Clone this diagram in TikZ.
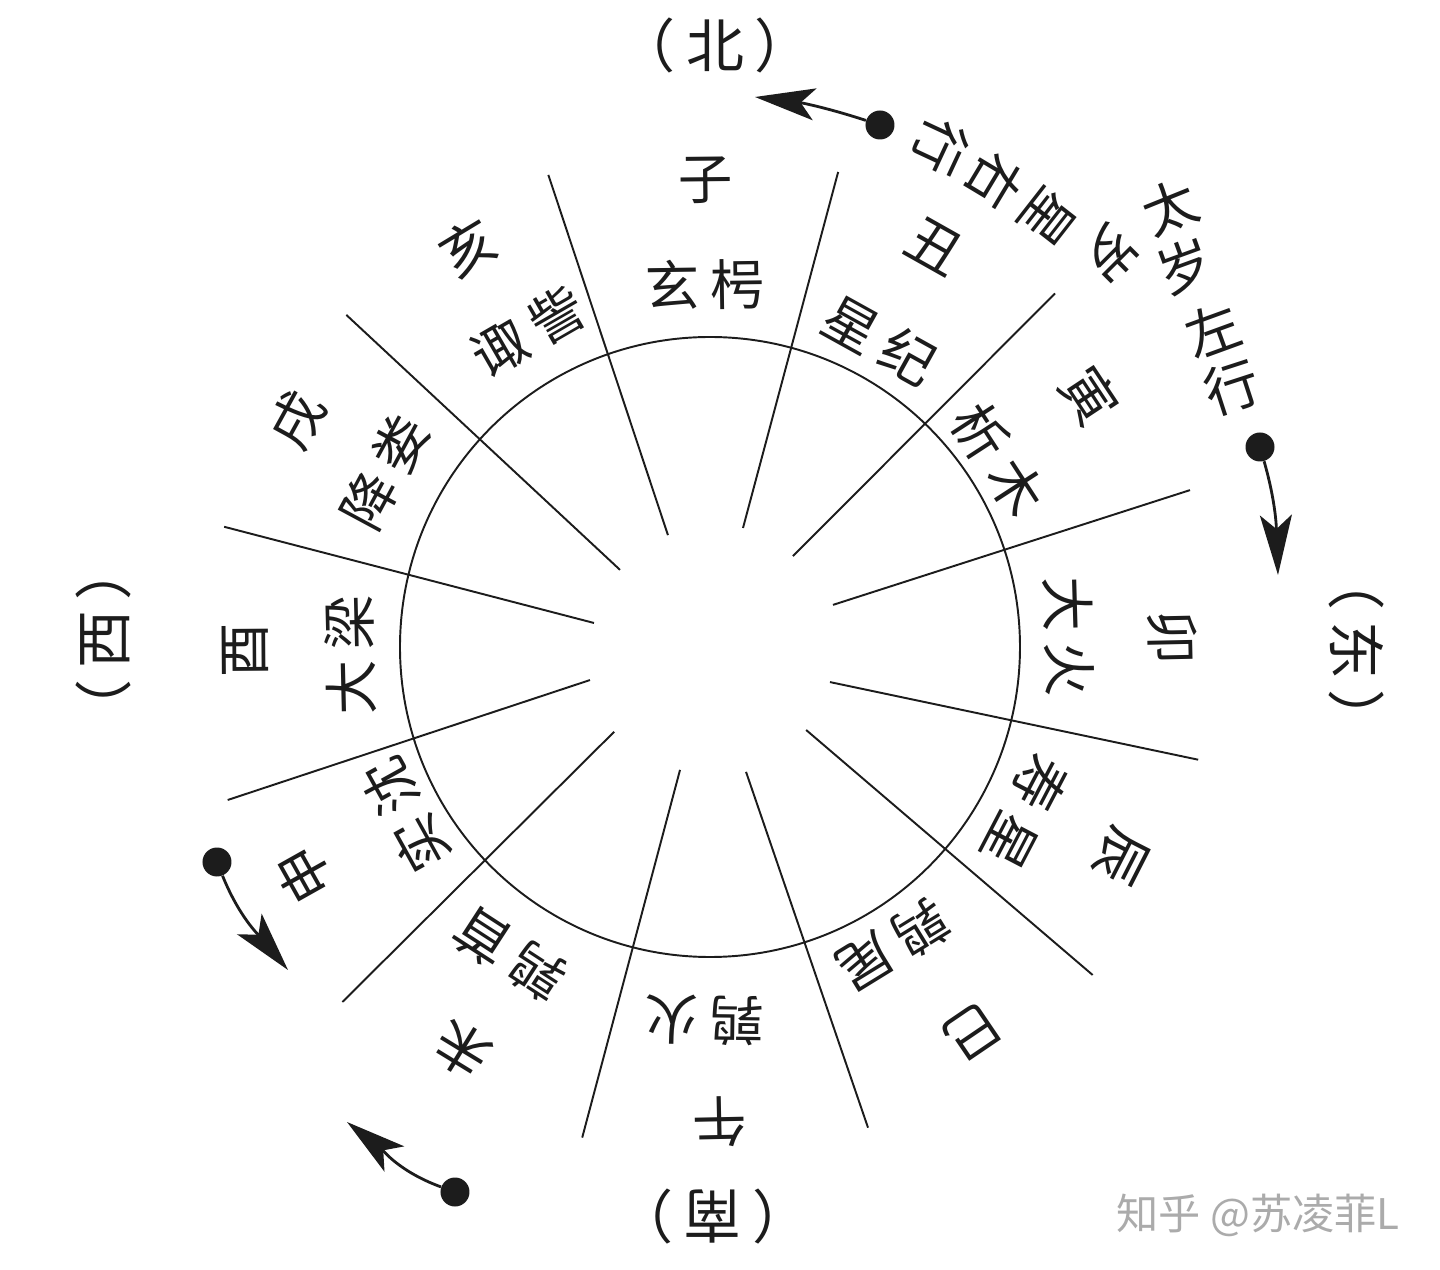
\documentclass[tikz,border=0pt]{standalone}
\usepackage{fontspec}
\usepackage{xcolor}
\usetikzlibrary{arrows.meta}
\newfontfamily\cjk{Noto Sans CJK SC}
\definecolor{Ink}{HTML}{1C1C1C}
\definecolor{Mark}{HTML}{ABABAB}

\begin{document}
\begin{tikzpicture}[every node/.style={font=\cjk\fontsize{31}{31}\selectfont,text=Ink,inner sep=0pt},ray/.style={draw=Ink,line width=1.1pt},move/.style={draw=Ink,line width=1.6pt,-{Stealth[length=12mm,width=6.4mm,inset=2.8mm]}},dot/.style={circle,fill=Ink,minimum size=5.8mm},side/.style={font=\cjk\fontsize{33}{33}\selectfont}]
\useasboundingbox (-14.2,-12.46) rectangle (14.6,12.94);
\draw[ray] (0,0) circle (6.2);
\foreach \ai/\ri/\ao/\ro in {110.6/2.39/108.9/9.98,74.5/2.47/74.9/9.84,47.6/2.46/45.7/9.88,18.9/2.6/18.1/10.1,-16.3/2.5/-13/10.02,-40.8/2.54/-40.6/10.08,-73.9/2.6/-71.8/10.12,-103.7/2.53/-104.6/10.14,-138.5/2.56/-136/10.22,-164.6/2.49/-162.4/10.12,168.3/2.37/166.1/10.01,139.4/2.37/137.6/9.85}
  \draw[ray] (\ai:\ri) -- (\ao:\ro);
% twelve branches, outer ring
\foreach \a/\r/\txt [count=\i] in {90.6/9.34/子,60.6/9.18/丑,33.5/9.12/寅,1.2/9.26/卯,-27/9.22/辰,-55.8/9.32/巳,-88.8/9.5/午,-121.5/9.46/未,-150.7/9.32/申,180.4/9.3/酉,151.2/9.42/戌,121.2/9.34/亥}
  \node[rotate=\a-90] (zhi\i) at (\a:\r) {\txt};
% twelve stations, inner ring
\foreach \a/\r/\txt [count=\i] in {90.8/7.24/玄\kern.2em枵,61/7.02/星\kern.2em纪,33/6.88/析\kern.2em木,1.6/7.18/大\kern.2em火,-27.6/7.12/寿\kern.2em星,-58.4/7.0/鹑\kern.2em尾,-90.8/7.46/鹑\kern.2em火,-123/7.34/鹑\kern.2em首,-151/6.96/实\kern.2em沈,181.3/7.2/大\kern.2em梁,151.7/7.38/降\kern.2em娄,120/7.28/诹\kern.2em訾}
  \node[rotate=\a-90] (ci\i) at (\a:\r) {\txt};
\node[side] (bei) at (0.1,12.04) {（\kern.18em北\kern.18em）};
\node[side,rotate=-90] (dong) at (12.94,-0.06) {（\kern.18em东\kern.18em）};
\node[side,rotate=180] (nan) at (0.06,-11.4) {（\kern.18em南\kern.18em）};
\node[side,rotate=90] (xi) at (-12.14,0.14) {（\kern.18em西\kern.18em）};
\foreach \x/\y/\r/\txt [count=\i] in {9.2/8.8/22/太,9.5/7.6/20/岁,10.06/6.34/20/左,10.44/5.2/18/行}
  \node[rotate=\r] (tai\i) at (\x,\y) {\txt};
\foreach \x/\y/\r/\txt [count=\i] in {8.0/7.88/225/岁,6.76/8.6/232/星,5.7/9.3/239/右,4.62/10.0/245/行}
  \node[rotate=\r] (sui\i) at (\x,\y) {\txt};
\node[dot] (d1) at (3.4,10.44) {};
\coordinate (t1) at (0.9,11.0);
\draw[move] (d1) to[out=162,in=-7] (t1);
\node[dot] (d2) at (11.0,4.0) {};
\coordinate (t2) at (11.36,1.44);
\draw[move] (d2) to[out=-74,in=92] (t2);
\node[dot] (d3) at (-9.86,-4.3) {};
\coordinate (t3) at (-8.44,-6.46);
\draw[move] (d3) to[out=-68,in=130] (t3);
\node[dot] (d4) at (-5.1,-10.9) {};
\coordinate (t4) at (-7.26,-9.5);
\draw[move] (d4) to[out=160,in=-38] (t4);
\node[font=\cjk\fontsize{24}{24}\selectfont,text=Mark] (mark) at (10.96,-11.36) {知乎 @苏凌菲L};
\end{tikzpicture}
\end{document}
